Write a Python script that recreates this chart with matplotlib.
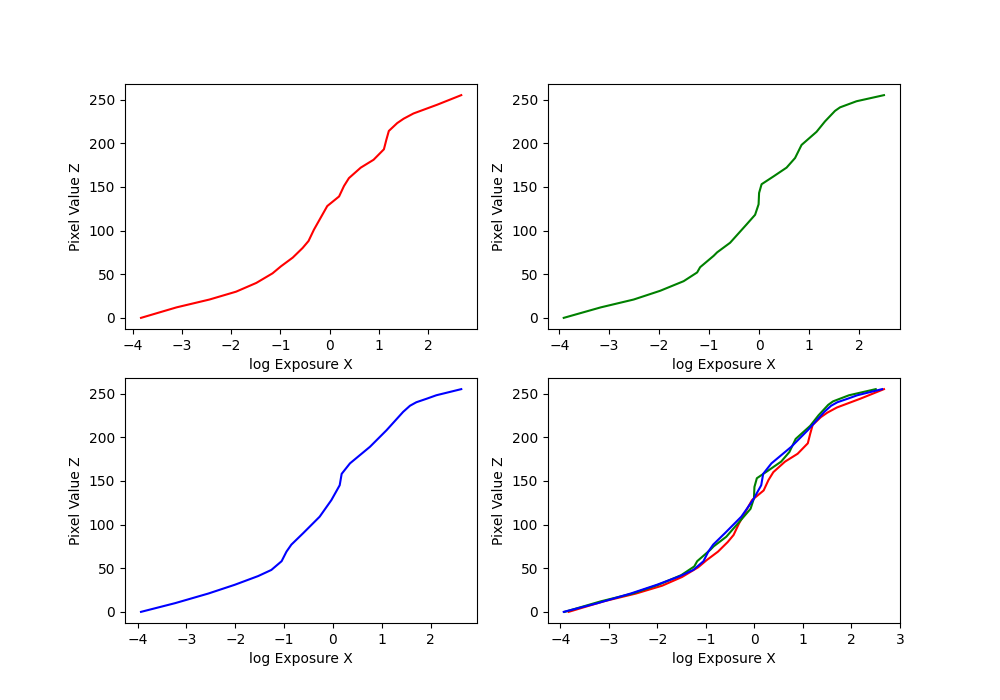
import matplotlib
matplotlib.use("Agg")
import matplotlib.pyplot as plt

# Red channel response curve (log exposure vs pixel value)
red_x = [-3.83, -3.11, -2.44, -1.90, -1.49, -1.16, -0.99, -0.75, -0.55, -0.43,
         -0.32, -0.05, 0.19, 0.29, 0.39, 0.63, 0.89, 1.10, 1.15, 1.20, 1.37,
         1.50, 1.70, 2.18, 2.67]
red_z = [0, 12, 21, 30, 40, 51, 59, 69, 80, 88,
         101, 128, 139, 151, 160, 172, 181, 193, 204, 214, 223,
         228, 234, 244, 255]

# Green channel
green_x = [-3.91, -3.17, -2.51, -1.98, -1.51, -1.24, -1.18, -0.91, -0.84, -0.58,
           -0.25, -0.08, -0.01, 0.00, 0.05, 0.29, 0.55, 0.72, 0.85, 1.15, 1.32,
           1.52, 1.62, 1.95, 2.50]
green_z = [0, 12, 21, 31, 42, 52, 58, 71, 75, 86,
           107, 118, 130, 143, 153, 162, 172, 183, 198, 213, 225,
           237, 241, 248, 255]

# Blue channel
blue_x = [-3.93, -3.23, -2.55, -2.01, -1.53, -1.26, -1.05, -0.95, -0.85, -0.61,
          -0.27, -0.03, 0.14, 0.18, 0.35, 0.76, 1.10, 1.44, 1.58, 1.71, 1.92,
          2.12, 2.63]
blue_z = [0, 10, 21, 31, 41, 48, 58, 69, 77, 90,
          109, 128, 145, 158, 170, 189, 208, 229, 236, 240, 244,
          248, 255]

xlabel = "log Exposure X"
ylabel = "Pixel Value Z"

fig, axes = plt.subplots(2, 2, figsize=(10, 7), dpi=100)
ax1, ax2, ax3, ax4 = axes.ravel()

ax1.plot(red_x, red_z, color="r")
ax2.plot(green_x, green_z, color="g")
ax3.plot(blue_x, blue_z, color="b")
ax4.plot(red_x, red_z, color="r")
ax4.plot(green_x, green_z, color="g")
ax4.plot(blue_x, blue_z, color="b")

for ax in (ax1, ax2, ax3, ax4):
    ax.set_xlabel(xlabel)
    ax.set_ylabel(ylabel)

fig.savefig("out.png", dpi=100)
